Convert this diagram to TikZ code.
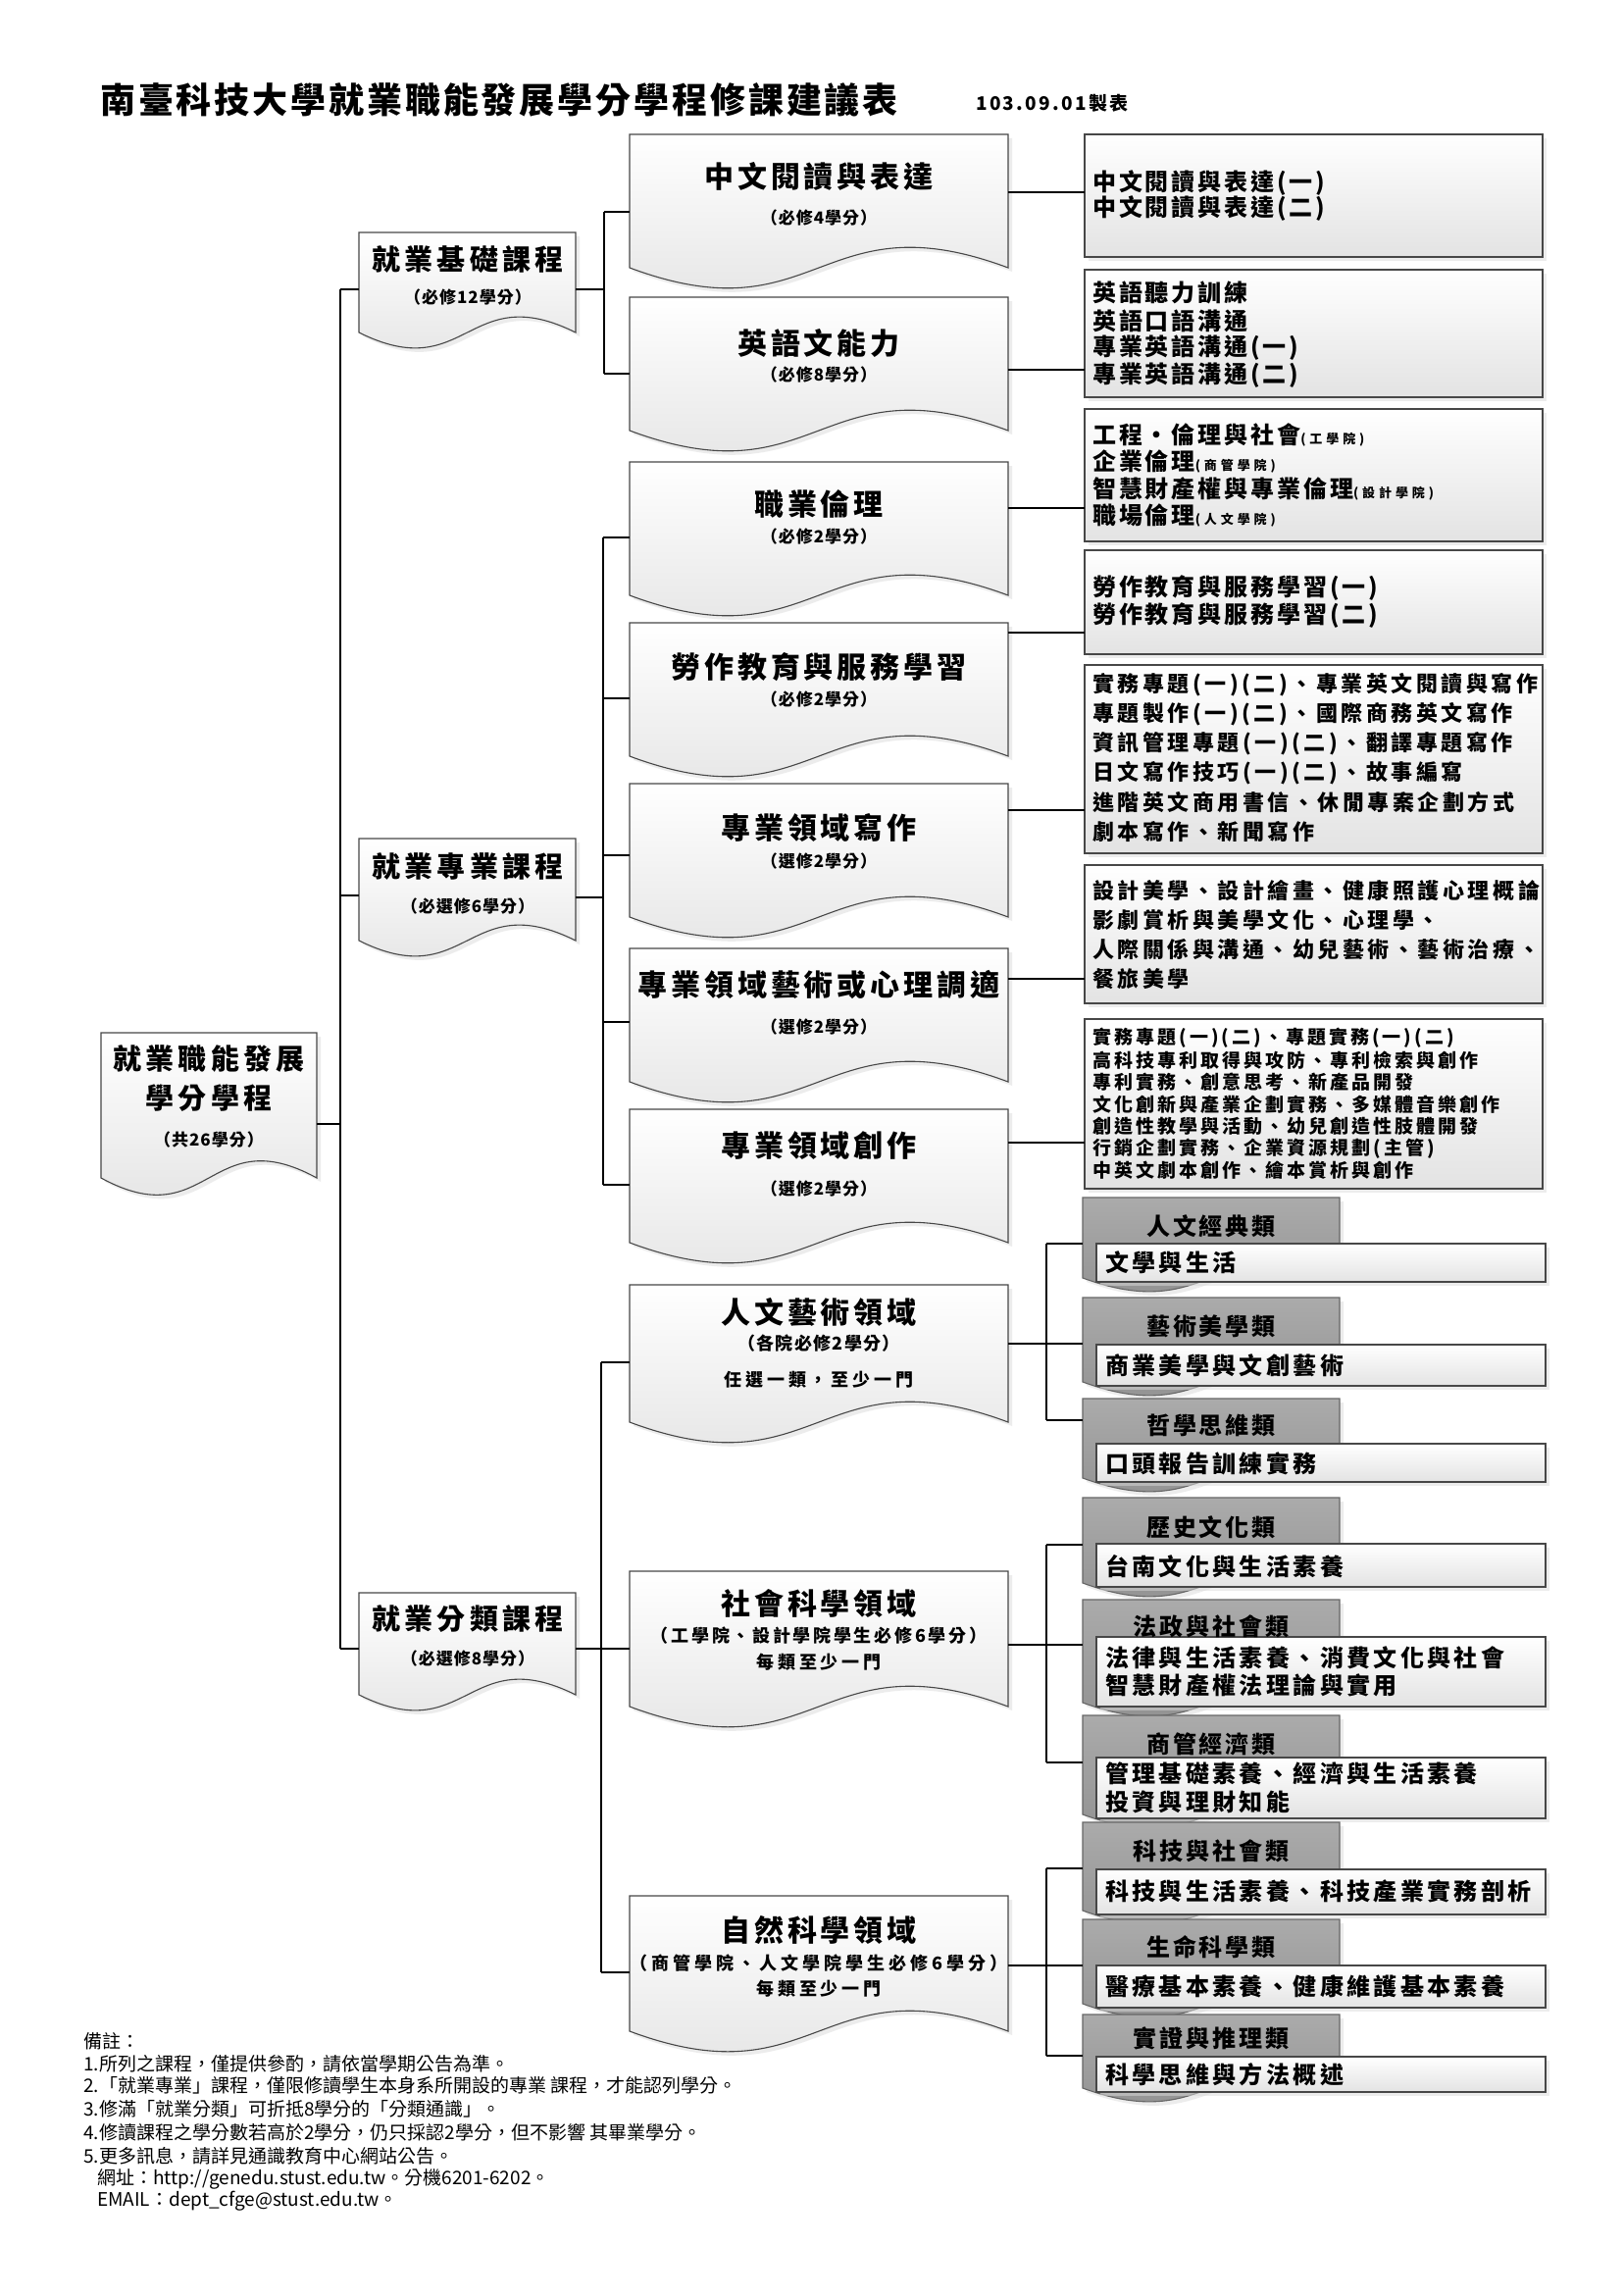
\documentclass[tikz,border=0pt]{standalone}
\usepackage{fontspec}
\setmainfont{Noto Sans CJK TC}
\usetikzlibrary{shadows}
\newcommand\setfs[3]{\fontsize{#1}{#2}\selectfont\addfontfeature{LetterSpace=#3}}
\newcommand\smallnote[1]{{\setfs{13}{14}{30}#1}}
% document-shaped box: name, x0, y0, width, height, wave, style
\newcommand\docbox[7]{%
  \node[anc, minimum width=#4pt, minimum height=#5pt] (#1) at (#2,#3) {};
  \path[#7] (#1.north west) -- (#1.north east) -- (#1.south east)
    .. controls ([yshift=#6pt]#1.south) and ([yshift=-#6pt]#1.south) .. (#1.south west) -- cycle;}
% rectangular list box: name, x0, y0, width, height
\newcommand\listbox[5]{%
  \node[anc, rboxs, minimum width=#4pt, minimum height=#5pt] (#1) at (#2,#3) {};}
\tikzset{
  anc/.style={inner sep=0pt, outer sep=0pt, anchor=north west},
  shd/.style={drop shadow={shadow xshift=4pt, shadow yshift=-4pt, fill=black!14}},
  docs/.style={draw=black!72, line width=1.1pt, top color=white, bottom color=black!12, shd},
  tabs/.style={draw=black!60, line width=1.1pt, top color=black!33, bottom color=black!45, shd},
  rboxs/.style={draw=black!72, line width=1.1pt, top color=white, bottom color=black!11, shd},
  conn/.style={draw=black, line width=1.2pt},
  ttl/.style={inner sep=0pt, anchor=west, font=\bfseries\setfs{36}{38}{8}},
  datet/.style={inner sep=0pt, anchor=west, font=\bfseries\setfs{19}{21}{12}},
  l2t/.style={inner sep=0pt, font=\bfseries\setfs{29}{31}{15}},
  l2s/.style={inner sep=0pt, font=\bfseries\setfs{17}{19}{6}},
  mt/.style={inner sep=0pt, font=\bfseries\setfs{30}{32}{13}},
  ms/.style={inner sep=0pt, font=\bfseries\setfs{17}{19}{6}},
  msa/.style={inner sep=0pt, font=\bfseries\setfs{18}{20}{7}},
  msb/.style={inner sep=0pt, font=\bfseries\setfs{18}{20}{15}},
  msc/.style={inner sep=0pt, font=\bfseries\setfs{18}{20}{22}},
  mn/.style={inner sep=0pt, font=\bfseries\setfs{18}{20}{22}},
  rt/.style={inner sep=0pt, anchor=west, font=\bfseries\setfs{24}{26}{12}},
  rtb/.style={inner sep=0pt, anchor=west, font=\bfseries\setfs{22}{24}{16}},
  rtc/.style={inner sep=0pt, anchor=west, font=\bfseries\setfs{19}{21}{16}},
  tabt/.style={inner sep=0pt, font=\bfseries\setfs{24}{26}{12}},
  gt/.style={inner sep=0pt, anchor=west, font=\bfseries\setfs{24}{26}{14}},
  note/.style={inner sep=0pt, anchor=west, font=\fontsize{19}{21}\selectfont},
}
\begin{document}
\begin{tikzpicture}[x=1pt,y=-1pt]
\fill[white] (0,0) rectangle (1656,2341);
\useasboundingbox (0,0) rectangle (1656,2341);

% ---------- title ----------
\node[ttl] (title) at (102,102) {南臺科技大學就業職能發展學分學程修課建議表};
\node[datet] (date) at (995,105) {103.09.01製表};

% ---------- bus coordinates ----------
\coordinate (tr) at (347,0);
\coordinate (bA) at (616,0);
\coordinate (bB) at (615,0);
\coordinate (bC) at (613,0);
\coordinate (bG) at (1067,0);

% ---------- level 1 / 2 ----------
\docbox{root}{103}{1053}{220}{148}{60}{docs}
\docbox{la}{366}{237}{221}{102}{55}{docs}
\docbox{lb}{366}{855}{221}{104}{55}{docs}
\docbox{lc}{366}{1624}{221}{104}{55}{docs}

% ---------- level 3 ----------
\docbox{m1}{642}{137}{386}{136}{72}{docs}
\docbox{m2}{642}{303}{386}{136}{72}{docs}
\docbox{m3}{642}{471}{386}{136}{72}{docs}
\docbox{m4}{642}{635}{386}{136}{72}{docs}
\docbox{m5}{642}{799}{386}{136}{72}{docs}
\docbox{m6}{642}{967}{386}{136}{72}{docs}
\docbox{m7}{642}{1131}{386}{136}{72}{docs}
\docbox{m8}{642}{1310}{386}{140}{72}{docs}
\docbox{m9}{642}{1602}{386}{138}{72}{docs}
\docbox{m10}{642}{1933}{386}{138}{72}{docs}

% ---------- course lists ----------
\listbox{r1}{1106}{137}{467}{125}
\listbox{r2}{1106}{275}{467}{130}
\listbox{r3}{1106}{417}{467}{135}
\listbox{r4}{1106}{561}{467}{106}
\listbox{r5}{1106}{678}{467}{192}
\listbox{r6}{1106}{882}{467}{141}
\listbox{r7}{1106}{1039}{467}{173}

% ---------- categories ----------
\docbox{g1t}{1104}{1221}{262}{82}{48}{tabs}
\listbox{g1}{1118}{1268}{458}{39}
\docbox{g2t}{1104}{1323}{262}{86}{48}{tabs}
\listbox{g2}{1118}{1371}{458}{42}
\docbox{g3t}{1104}{1426}{262}{81}{48}{tabs}
\listbox{g3}{1118}{1472}{458}{39}
\docbox{g4t}{1104}{1527}{262}{87}{48}{tabs}
\listbox{g4}{1118}{1574}{458}{44}
\docbox{g5t}{1104}{1631}{262}{105}{48}{tabs}
\listbox{g5}{1118}{1669}{458}{71}
\docbox{g6t}{1104}{1749}{262}{101}{48}{tabs}
\listbox{g6}{1118}{1792}{458}{62}
\docbox{g7t}{1104}{1858}{262}{90}{48}{tabs}
\listbox{g7}{1118}{1906}{458}{46}
\docbox{g8t}{1104}{1957}{262}{86}{48}{tabs}
\listbox{g8}{1118}{2004}{458}{43}
\docbox{g9t}{1104}{2054}{262}{75}{48}{tabs}
\listbox{g9}{1118}{2097}{458}{36}

% ---------- connectors ----------
\draw[conn] (root.east |- 0,1146) -- (tr |- 0,1146);
\draw[conn] (tr |- 0,295) -- (tr |- 0,1681);
\draw[conn] (tr |- 0,295) -- (la.west |- 0,295);
\draw[conn] (tr |- 0,913) -- (lb.west |- 0,913);
\draw[conn] (tr |- 0,1681) -- (lc.west |- 0,1681);

\draw[conn] (la.east |- 0,295) -- (bA |- 0,295);
\draw[conn] (bA |- 0,216) -- (bA |- 0,381);
\draw[conn] (bA |- 0,216) -- (m1.west |- 0,216);
\draw[conn] (bA |- 0,381) -- (m2.west |- 0,381);

\draw[conn] (lb.east |- 0,915) -- (bB |- 0,915);
\draw[conn] (bB |- 0,548) -- (bB |- 0,1208);
\foreach \n/\y in {m3/548, m4/712, m5/872, m6/1042, m7/1208}
  \draw[conn] (bB |- 0,\y) -- (\n.west |- 0,\y);

\draw[conn] (lc.east |- 0,1681) -- (bC |- 0,1681);
\draw[conn] (bC |- 0,1389) -- (bC |- 0,2011);
\foreach \n/\y in {m8/1389, m9/1681, m10/2011}
  \draw[conn] (bC |- 0,\y) -- (\n.west |- 0,\y);

\foreach \a/\b/\y in {m1/r1/196, m2/r2/377, m3/r3/518, m4/r4/645, m5/r5/826, m6/r6/998, m7/r7/1165}
  \draw[conn] (\a.east |- 0,\y) -- (\b.west |- 0,\y);

\draw[conn] (m8.east |- 0,1370) -- (bG |- 0,1370);
\draw[conn] (bG |- 0,1268) -- (bG |- 0,1448);
\draw[conn] (m9.east |- 0,1677) -- (bG |- 0,1677);
\draw[conn] (bG |- 0,1575) -- (bG |- 0,1797);
\draw[conn] (m10.east |- 0,2004) -- (bG |- 0,2004);
\draw[conn] (bG |- 0,1905) -- (bG |- 0,2096);
\foreach \n/\y in {g1t/1268, g2t/1370, g3t/1448, g4t/1575, g5t/1677, g6t/1797, g7t/1905, g8t/2004, g9t/2096}
  \draw[conn] (bG |- 0,\y) -- (\n.west |- 0,\y);

% ---------- texts: level 1 / 2 ----------
\node[l2t] (roota) at (213,1080) {就業職能發展};
\node[l2t] (rootb) at (213,1120) {學分學程};
\node[l2s] (rootc) at (213,1162) {（共26學分）};
\node[l2t] (laa) at (477,265) {就業基礎課程};
\node[l2s] (lab) at (477,303) {（必修12學分）};
\node[l2t] (lba) at (477,883) {就業專業課程};
\node[l2s] (lbb) at (477,924) {（必選修6學分）};
\node[l2t] (lca) at (477,1651) {就業分類課程};
\node[l2s] (lcb) at (477,1691) {（必選修8學分）};

% ---------- texts: level 3 ----------
\node[mt] (m1a) at (835,180) {中文閱讀與表達};
\node[ms] (m1b) at (835,222) {（必修4學分）};
\node[mt] (m2a) at (835,350) {英語文能力};
\node[ms] (m2b) at (835,382) {（必修8學分）};
\node[mt] (m3a) at (835,514) {職業倫理};
\node[ms] (m3b) at (835,547) {（必修2學分）};
\node[mt] (m4a) at (835,680) {勞作教育與服務學習};
\node[ms] (m4b) at (835,713) {（必修2學分）};
\node[mt] (m5a) at (835,844) {專業領域寫作};
\node[ms] (m5b) at (835,878) {（選修2學分）};
\node[mt] (m6a) at (835,1004) {專業領域藝術或心理調適};
\node[ms] (m6b) at (835,1047) {（選修2學分）};
\node[mt] (m7a) at (835,1168) {專業領域創作};
\node[ms] (m7b) at (835,1212) {（選修2學分）};
\node[mt] (m8a) at (835,1338) {人文藝術領域};
\node[msa] (m8b) at (835,1370) {（各院必修2學分）};
\node[mn] (m8c) at (835,1407) {任選一類，至少一門};
\node[mt] (m9a) at (835,1635) {社會科學領域};
\node[msb] (m9b) at (835,1668) {（工學院、設計學院學生必修6學分）};
\node[mn] (m9c) at (835,1695) {每類至少一門};
\node[mt] (m10a) at (835,1968) {自然科學領域};
\node[msc] (m10b) at (835,2002) {（商管學院、人文學院學生必修6學分）};
\node[mn] (m10c) at (835,2028) {每類至少一門};

% ---------- texts: course lists ----------
\node[rt] (r1a) at (1114,187) {中文閱讀與表達(一)};
\node[rt] (r1b) at (1114,213) {中文閱讀與表達(二)};
\node[rt] (r2a) at (1114,298) {英語聽力訓練};
\node[rt] (r2b) at (1114,327) {英語口語溝通};
\node[rt] (r2c) at (1114,355) {專業英語溝通(一)};
\node[rt] (r2d) at (1114,383) {專業英語溝通(二)};
\node[rt] (r3a) at (1114,443) {工程・倫理與社會\smallnote{(工學院)}};
\node[rt] (r3b) at (1114,470) {企業倫理\smallnote{(商管學院)}};
\node[rt] (r3c) at (1114,498) {智慧財產權與專業倫理\smallnote{(設計學院)}};
\node[rt] (r3d) at (1114,525) {職場倫理\smallnote{(人文學院)}};
\node[rt] (r4a) at (1114,600) {勞作教育與服務學習(一)};
\node[rt] (r4b) at (1114,628) {勞作教育與服務學習(二)};
\node[rtb] (r5a) at (1114,698) {實務專題(一)(二)、專業英文閱讀與寫作};
\node[rtb] (r5b) at (1114,728) {專題製作(一)(二)、國際商務英文寫作};
\node[rtb] (r5c) at (1114,758) {資訊管理專題(一)(二)、翻譯專題寫作};
\node[rtb] (r5d) at (1114,788) {日文寫作技巧(一)(二)、故事編寫};
\node[rtb] (r5e) at (1114,818) {進階英文商用書信、休閒專案企劃方式};
\node[rtb] (r5f) at (1114,848) {劇本寫作、新聞寫作};
\node[rtb] (r6a) at (1114,908) {設計美學、設計繪畫、健康照護心理概論};
\node[rtb] (r6b) at (1114,938) {影劇賞析與美學文化、心理學、};
\node[rtb] (r6c) at (1114,968) {人際關係與溝通、幼兒藝術、藝術治療、};
\node[rtb] (r6d) at (1114,998) {餐旅美學};
\node[rtc] (r7a) at (1114,1058) {實務專題(一)(二)、專題實務(一)(二)};
\node[rtc] (r7b) at (1114,1081) {高科技專利取得與攻防、專利檢索與創作};
\node[rtc] (r7c) at (1114,1103) {專利實務、創意思考、新產品開發};
\node[rtc] (r7d) at (1114,1126) {文化創新與產業企劃實務、多媒體音樂創作};
\node[rtc] (r7e) at (1114,1148) {創造性教學與活動、幼兒創造性肢體開發};
\node[rtc] (r7f) at (1114,1171) {行銷企劃實務、企業資源規劃(主管)};
\node[rtc] (r7g) at (1114,1193) {中英文劇本創作、繪本賞析與創作};

% ---------- texts: categories ----------
\node[tabt] (g1h) at (1235,1250) {人文經典類};
\node[gt] (g1a) at (1127,1287) {文學與生活};
\node[tabt] (g2h) at (1235,1352) {藝術美學類};
\node[gt] (g2a) at (1127,1392) {商業美學與文創藝術};
\node[tabt] (g3h) at (1235,1453) {哲學思維類};
\node[gt] (g3a) at (1127,1492) {口頭報告訓練實務};
\node[tabt] (g4h) at (1235,1557) {歷史文化類};
\node[gt] (g4a) at (1127,1597) {台南文化與生活素養};
\node[tabt] (g5h) at (1235,1658) {法政與社會類};
\node[gt] (g5a) at (1127,1690) {法律與生活素養、消費文化與社會};
\node[gt] (g5b) at (1127,1718) {智慧財產權法理論與實用};
\node[tabt] (g6h) at (1235,1778) {商管經濟類};
\node[gt] (g6a) at (1127,1808) {管理基礎素養、經濟與生活素養};
\node[gt] (g6b) at (1127,1837) {投資與理財知能};
\node[tabt] (g7h) at (1235,1887) {科技與社會類};
\node[gt] (g7a) at (1127,1928) {科技與生活素養、科技產業實務剖析};
\node[tabt] (g8h) at (1235,1985) {生命科學類};
\node[gt] (g8a) at (1127,2025) {醫療基本素養、健康維護基本素養};
\node[tabt] (g9h) at (1235,2078) {實證與推理類};
\node[gt] (g9a) at (1127,2115) {科學思維與方法概述};

% ---------- notes ----------
\node[note] (n0) at (85,2081) {備註：};
\node[note] (n1) at (85,2104) {1.所列之課程，僅提供參酌，請依當學期公告為準。};
\node[note] (n2) at (85,2126) {2.「就業專業」課程，僅限修讀學生本身系所開設的專業 課程，才能認列學分。};
\node[note] (n3) at (85,2150) {3.修滿「就業分類」可折抵8學分的「分類通識」。};
\node[note] (n4) at (85,2174) {4.修讀課程之學分數若高於2學分，仍只採認2學分，但不影響 其畢業學分。};
\node[note] (n5) at (85,2198) {5.更多訊息，請詳見通識教育中心網站公告。};
\node[note] (n6) at (99,2222) {網址：http://genedu.stust.edu.tw。分機6201-6202。};
\node[note] (n7) at (99,2244) {EMAIL：dept\_cfge@stust.edu.tw。};
\end{tikzpicture}
\end{document}
